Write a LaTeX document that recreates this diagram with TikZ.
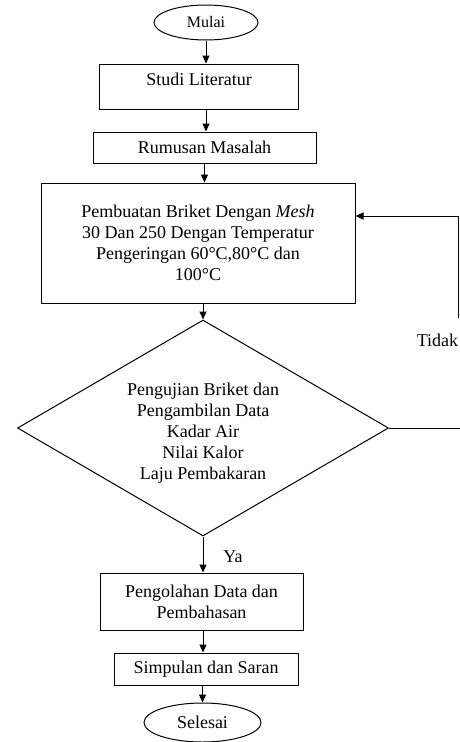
\documentclass[tikz,border=0pt]{standalone}
\usepackage{fontspec}
\setmainfont{Liberation Serif}
\usetikzlibrary{shapes.geometric,arrows.meta}
\begin{document}
\begin{tikzpicture}[x=1pt,y=-1pt,
		every node/.style={font=\fontsize{18}{21}\selectfont},
		box/.style={draw,line width=1pt,align=center,inner sep=0pt},
		oval/.style={draw,ellipse,line width=1pt,inner sep=0pt},
		decision/.style={draw,diamond,aspect=1.72,line width=1pt,align=center,inner sep=0pt},
		arr/.style={-{Triangle[length=8pt,width=7pt]},line width=1pt}]
		\useasboundingbox (0,0) rectangle (460,742);
		\node[oval,minimum width=104,minimum height=35,font=\fontsize{16}{19}\selectfont] (mulai) at (206,22.5) {Mulai};
		\node[box,minimum width=199,minimum height=45,text depth=14pt] (studi) at (199,86.5) {Studi Literatur};
		\node[box,minimum width=223,minimum height=31] (rumusan) at (204.5,147.5) {Rumusan Masalah};
		\node[box,minimum width=314,minimum height=120] (buat) at (198,243) {Pembuatan Briket Dengan \textit{Mesh}\\30 Dan 250 Dengan Temperatur\\Pengeringan 60°C,80°C dan\\100°C};
		\node[decision,minimum width=371,minimum height=216] (uji) at (203,428) {\rule{0pt}{22pt}Pengujian Briket dan\\Pengambilan Data\\Kadar Air\\Nilai Kalor\\Laju Pembakaran};
		\node[box,minimum width=203,minimum height=57] (olah) at (201.5,601.5) {Pengolahan Data dan\\Pembahasan};
		\node[box,minimum width=184,minimum height=32] (simpulan) at (206,669) {Simpulan dan Saran};
		\node[oval,minimum width=117,minimum height=39] (selesai) at (202.5,722.5) {Selesai};
		\node (ya) at (233,557) {Ya};
		\node (tidak) at (437.5,340) {Tidak};
		\draw[arr] (mulai) -- (studi.north -| mulai);
		\draw[arr] (studi.south -| mulai) -- (rumusan.north -| mulai);
		\draw[arr] (rumusan) -- (rumusan |- buat.north);
		\draw[arr] (buat.south -| uji) -- (uji.north);
		\draw[arr] (uji.south) -- (olah.north -| uji);
		\draw[arr] (olah.south -| uji) -- (simpulan.north -| uji);
		\draw[arr] (simpulan.south -| selesai) -- (selesai);
		% Loop back when the test fails
		\coordinate (t1) at (460,428);
		\coordinate (t2) at (458,318);
		\coordinate (t3) at (458,216);
		\draw[line width=1pt] (uji.east) -- (t1);
		\draw[arr] (t2) -- (t3) -- (t3 -| buat.east);
	\end{tikzpicture}
\end{document}
